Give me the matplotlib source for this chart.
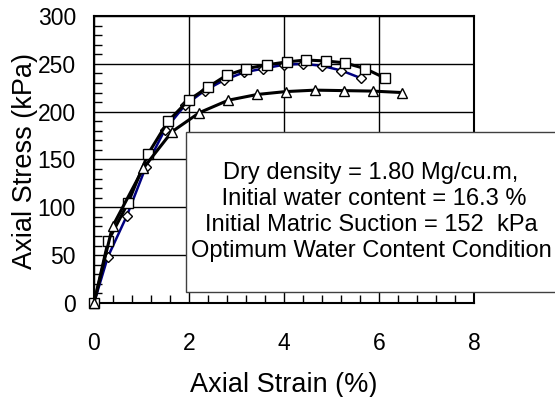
import matplotlib
matplotlib.use("Agg")
import matplotlib.pyplot as plt
from matplotlib.patches import Rectangle
from matplotlib.ticker import MultipleLocator

plt.rcParams['font.family'] = ['Liberation Sans', 'DejaVu Sans']

# Series 1: squares (black line)
sq_strain = [0, 0.30, 0.72, 1.14, 1.56, 1.99, 2.41, 2.79, 3.21, 3.64, 4.06, 4.46, 4.88, 5.28, 5.71, 6.13]
sq_stress = [0, 65, 105, 156, 190, 212, 226, 238, 245, 249, 252, 254, 253, 251, 245, 235]

# Series 2: diamonds (navy line)
dm_strain = [0, 0.29, 0.69, 1.09, 1.49, 1.92, 2.33, 2.74, 3.15, 3.56, 3.99, 4.39, 4.79, 5.21, 5.62]
dm_stress = [0, 48, 91, 142, 181, 207, 222, 233, 241, 245, 249, 250, 248, 243, 235]

# Series 3: triangles (black line)
tr_strain = [0, 0.39, 1.04, 1.64, 2.22, 2.83, 3.44, 4.04, 4.65, 5.27, 5.87, 6.48]
tr_stress = [0, 80, 141, 179, 199, 212, 218, 221, 222.5, 222, 221.5, 220]

x_ticks = [0, 2, 4, 6, 8]
y_ticks = [0, 50, 100, 150, 200, 250, 300]

info_text = ("Dry density = 1.80 Mg/cu.m,\n"
             " Initial water content = 16.3 %\n"
             "Initial Matric Suction = 152  kPa\n"
             "Optimum Water Content Condition")

W, H = 555, 397
fig = plt.figure(figsize=(W / 100, H / 100), dpi=100)
ax = fig.add_axes([94 / W, 1 - 303 / H, (474 - 94) / W, (303 - 16) / H])

ax.plot(dm_strain, dm_stress, color='#000080', lw=1.8, marker='D', ms=5.5,
        mfc='white', mec='black', mew=1.0, zorder=4, clip_on=False)
ax.plot(sq_strain, sq_stress, color='black', lw=2.2, marker='s', ms=7,
        mfc='white', mec='black', mew=1.0, zorder=5, clip_on=False)
ax.plot(tr_strain, tr_stress, color='black', lw=2.2, marker='^', ms=7,
        mfc='white', mec='black', mew=1.0, zorder=5, clip_on=False)

ax.set_xlim(0, 8)
ax.set_ylim(0, 300)
ax.set_xticks(x_ticks)
ax.set_yticks(y_ticks)
ax.xaxis.set_minor_locator(MultipleLocator(0.4))
ax.yaxis.set_minor_locator(MultipleLocator(10))
ax.tick_params(axis='both', which='both', direction='in', color='black')
ax.tick_params(axis='both', which='major', length=0, labelsize=16.5)
ax.tick_params(axis='x', which='major', pad=21)
ax.tick_params(axis='y', which='major', pad=13)
ax.tick_params(axis='both', which='minor', length=6, width=1)
ax.grid(True, which='major', color='black', lw=1.0)
ax.set_axisbelow(True)
for s in ax.spines.values():
    s.set_linewidth(1.5)
    s.set_color('black')

ax.set_xlabel("Axial Strain (%)", fontsize=19.5, labelpad=12)
ax.set_ylabel("Axial Stress (kPa)", fontsize=19.5)
ax.yaxis.set_label_coords(-0.148, 0.496)

box = Rectangle((186 / W, 1 - 292 / H), 1.2 - 186 / W, (292 - 132) / H,
                transform=fig.transFigure, facecolor='white', edgecolor='#404040',
                lw=1.0, zorder=10)
fig.add_artist(box)
fig.text(371 / W, 1 - 212 / H, info_text, ha='center', va='center',
         fontsize=17, linespacing=1.25, zorder=11)

fig.savefig("out.png", dpi=100)
